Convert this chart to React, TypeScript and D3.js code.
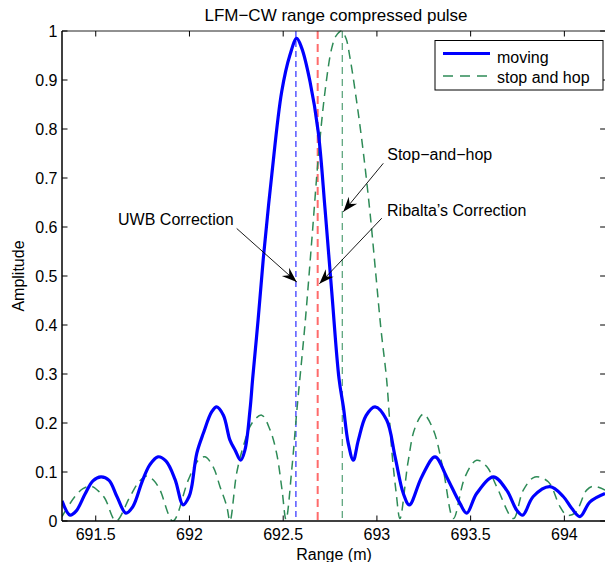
import React from "react";
import * as d3 from "d3";

// ---------- data ----------
const movingX = [691.320, 691.363, 691.395, 691.443, 691.485, 691.528, 691.571, 691.613, 691.661, 691.699, 691.747, 691.789, 691.832, 691.875, 691.923, 691.966, 691.998, 692.012, 692.039, 692.074, 692.119, 692.145, 692.181, 692.216, 692.243, 692.273, 692.296, 692.323, 692.337, 692.366, 692.394, 692.439, 692.492, 692.536, 692.572, 692.599, 692.643, 692.687, 692.723, 692.759, 692.798, 692.821, 692.847, 692.874, 692.901, 692.942, 692.990, 693.052, 693.097, 693.141, 693.173, 693.239, 693.310, 693.372, 693.443, 693.479, 693.532, 693.621, 693.692, 693.746, 693.778, 693.834, 693.923, 693.994, 694.039, 694.083, 694.137, 694.217];
const movingY = [0.041, 0.012, 0.020, 0.055, 0.082, 0.090, 0.083, 0.050, 0.016, 0.030, 0.080, 0.115, 0.131, 0.122, 0.085, 0.033, 0.050, 0.070, 0.138, 0.179, 0.223, 0.233, 0.216, 0.165, 0.145, 0.124, 0.145, 0.227, 0.290, 0.410, 0.536, 0.706, 0.876, 0.951, 0.985, 0.965, 0.897, 0.794, 0.638, 0.468, 0.290, 0.233, 0.159, 0.124, 0.165, 0.215, 0.233, 0.206, 0.131, 0.056, 0.033, 0.090, 0.131, 0.090, 0.036, 0.016, 0.056, 0.090, 0.063, 0.022, 0.012, 0.050, 0.070, 0.050, 0.026, 0.009, 0.039, 0.056];

const stopHopX = [691.320, 691.389, 691.432, 691.475, 691.512, 691.549, 691.608, 691.683, 691.731, 691.773, 691.811, 691.843, 691.912, 691.994, 692.047, 692.083, 692.127, 692.163, 692.199, 692.216, 692.252, 692.287, 692.334, 692.385, 692.430, 692.465, 692.494, 692.515, 692.547, 692.574, 692.616, 692.652, 692.687, 692.723, 692.759, 692.782, 692.812, 692.835, 692.857, 692.892, 692.927, 692.963, 692.995, 693.022, 693.052, 693.079, 693.102, 693.123, 693.166, 693.203, 693.248, 693.301, 693.354, 693.408, 693.470, 693.532, 693.586, 693.639, 693.728, 693.781, 693.843, 693.914, 693.977, 694.013, 694.057, 694.119, 694.155, 694.217];
const stopHopY = [0.009, 0.050, 0.066, 0.071, 0.062, 0.046, 0.000, 0.050, 0.080, 0.092, 0.082, 0.063, 0.000, 0.084, 0.124, 0.131, 0.110, 0.070, 0.030, 0.000, 0.098, 0.152, 0.200, 0.216, 0.186, 0.138, 0.063, 0.003, 0.110, 0.230, 0.400, 0.570, 0.740, 0.876, 0.965, 0.990, 1.000, 0.985, 0.944, 0.856, 0.754, 0.630, 0.500, 0.390, 0.288, 0.145, 0.060, 0.005, 0.120, 0.190, 0.218, 0.186, 0.104, 0.005, 0.090, 0.124, 0.111, 0.070, 0.005, 0.063, 0.090, 0.080, 0.029, 0.012, 0.016, 0.063, 0.071, 0.063];

const xTicks = [691.5, 692, 692.5, 693, 693.5, 694];
const yTicks = [0, 0.1, 0.2, 0.3, 0.4, 0.5, 0.6, 0.7, 0.8, 0.9, 1];

const markerNames = ["uwb", "ribalta", "stophop"];
const markerX = [692.568, 692.684, 692.815];

const annotationLabels = ["UWB Correction", "Ribalta\u2019s Correction", "Stop\u2212and\u2212hop"];
const annotationTextX = [691.619, 693.054, 693.055];
const annotationTextY = [0.604, 0.622, 0.737];
const annotationTailX = [692.252, 693.026, 693.034];
const annotationTailY = [0.597, 0.618, 0.730];
const annotationTipX = [692.572, 692.693, 692.821];
const annotationTipY = [0.488, 0.484, 0.631];

const legendLabels = ["moving", "stop and hop"];

// ---------- layout ----------
const W = 605, H = 562;
const L = 62, T = 31, B = 521;
const xScale = d3.scaleLinear().domain([691.32, 694.22]).range([L, 605.6]);
const yScale = d3.scaleLinear().domain([0, 1]).range([B, T]);
const R = xScale(694.22);

const BLUE = "#0000ff";
const GREEN = "#2e8b57";
const RED = "#ff6b6b";
const FONT = "'Liberation Sans', Arial, Helvetica, sans-serif";

function arrowHead(x1: number, y1: number, x2: number, y2: number) {
  const dx = x2 - x1, dy = y2 - y1;
  const len = Math.hypot(dx, dy);
  const ux = dx / len, uy = dy / len;
  const px = -uy, py = ux;
  const hl = 15, hw = 5.5, notch = 10;
  const bx = x2 - ux * hl, by = y2 - uy * hl;
  const nx = x2 - ux * notch, ny = y2 - uy * notch;
  return `M${x2},${y2}L${bx + px * hw},${by + py * hw}L${nx},${ny}L${bx - px * hw},${by - py * hw}Z`;
}

export default function App() {
  const line = d3.line<[number, number]>()
    .x(d => xScale(d[0]))
    .y(d => yScale(d[1]))
    .curve(d3.curveCatmullRom.alpha(0.5));
  const moving = line(movingX.map((x, i) => [x, movingY[i]] as [number, number])) || "";
  const stopHop = line(stopHopX.map((x, i) => [x, stopHopY[i]] as [number, number])) || "";

  const markerStyles: Record<string, { c: string; w: number; d: string }> = {
    uwb: { c: BLUE, w: 1, d: "6,4" },
    ribalta: { c: RED, w: 2, d: "8,5" },
    stophop: { c: GREEN, w: 1, d: "7,5" },
  };

  return (
    <svg width={W} height={H} style={{ position: "absolute", left: 0, top: 0, background: "#fff" }} fontFamily={FONT}>
      <rect x={0} y={0} width={W} height={H} fill="#fff" />
      <defs>
        <clipPath id="plotClip">
          <rect x={L} y={T - 2} width={R - L} height={B - T + 2} />
        </clipPath>
      </defs>

      {/* title */}
      <text x={336} y={21} textAnchor="middle" fontSize={17}>LFM{"\u2212"}CW range compressed pulse</text>

      {/* vertical markers */}
      {markerNames.map((n, i) => {
        const s = markerStyles[n];
        return (
          <line key={n} x1={xScale(markerX[i])} x2={xScale(markerX[i])} y1={T} y2={B}
            stroke={s.c} strokeWidth={s.w} strokeDasharray={s.d} />
        );
      })}

      <g clipPath="url(#plotClip)">
        <path d={stopHop} fill="none" stroke={GREEN} strokeWidth={1.5} strokeDasharray="9,6" />
        <path d={moving} fill="none" stroke={BLUE} strokeWidth={3.2} strokeLinejoin="round" />
      </g>

      {/* frame */}
      <line x1={L} x2={R} y1={T} y2={T} stroke="#222" strokeWidth={1} />
      <line x1={L} x2={R} y1={B} y2={B} stroke="#000" strokeWidth={1.5} />
      <line x1={L} x2={L} y1={T} y2={B} stroke="#000" strokeWidth={1.5} />
      <line x1={R} x2={R} y1={T} y2={B} stroke="#000" strokeWidth={1} />

      {/* x ticks */}
      {xTicks.map(t => (
        <g key={"x" + t}>
          <line x1={xScale(t)} x2={xScale(t)} y1={B} y2={B - 5.5} stroke="#000" strokeWidth={1} />
          <line x1={xScale(t)} x2={xScale(t)} y1={T} y2={T + 5.5} stroke="#000" strokeWidth={1} />
          <text x={xScale(t)} y={539.5} textAnchor="middle" fontSize={16}>{String(t)}</text>
        </g>
      ))}

      {/* y ticks */}
      {yTicks.map(t => (
        <g key={"y" + t}>
          <line x1={L} x2={L + 5.5} y1={yScale(t)} y2={yScale(t)} stroke="#000" strokeWidth={1} />
          <line x1={R} x2={R - 5.5} y1={yScale(t)} y2={yScale(t)} stroke="#000" strokeWidth={1} />
          <text x={57.5} y={yScale(t) + 5.7} textAnchor="end" fontSize={16}>{String(t)}</text>
        </g>
      ))}

      {/* axis labels */}
      <text x={334} y={559.5} textAnchor="middle" fontSize={16}>Range (m)</text>
      <text transform={`translate(23.5,${(T + B) / 2}) rotate(-90)`} textAnchor="middle" fontSize={16}>Amplitude</text>

      {/* annotations */}
      {annotationLabels.map((lab, i) => {
        const x1 = xScale(annotationTailX[i]), y1 = yScale(annotationTailY[i]);
        const x2 = xScale(annotationTipX[i]), y2 = yScale(annotationTipY[i]);
        return (
          <g key={lab}>
            <text x={xScale(annotationTextX[i])} y={yScale(annotationTextY[i])} fontSize={16}>{lab}</text>
            <line x1={x1} y1={y1} x2={x2} y2={y2} stroke="#000" strokeWidth={0.9} />
            <path d={arrowHead(x1, y1, x2, y2)} fill="#000" />
          </g>
        );
      })}

      {/* legend */}
      <g>
        <rect x={435} y={40.5} width={168} height={49.5} fill="#fff" stroke="#000" strokeWidth={1} />
        <line x1={443} x2={490} y1={53.5} y2={53.5} stroke={BLUE} strokeWidth={3.2} />
        <text x={497} y={62.5} fontSize={16}>{legendLabels[0]}</text>
        <line x1={443} x2={490} y1={76} y2={76} stroke={GREEN} strokeWidth={1.5} strokeDasharray="10,7" />
        <text x={497} y={83} fontSize={16}>{legendLabels[1]}</text>
      </g>
    </svg>
  );
}
